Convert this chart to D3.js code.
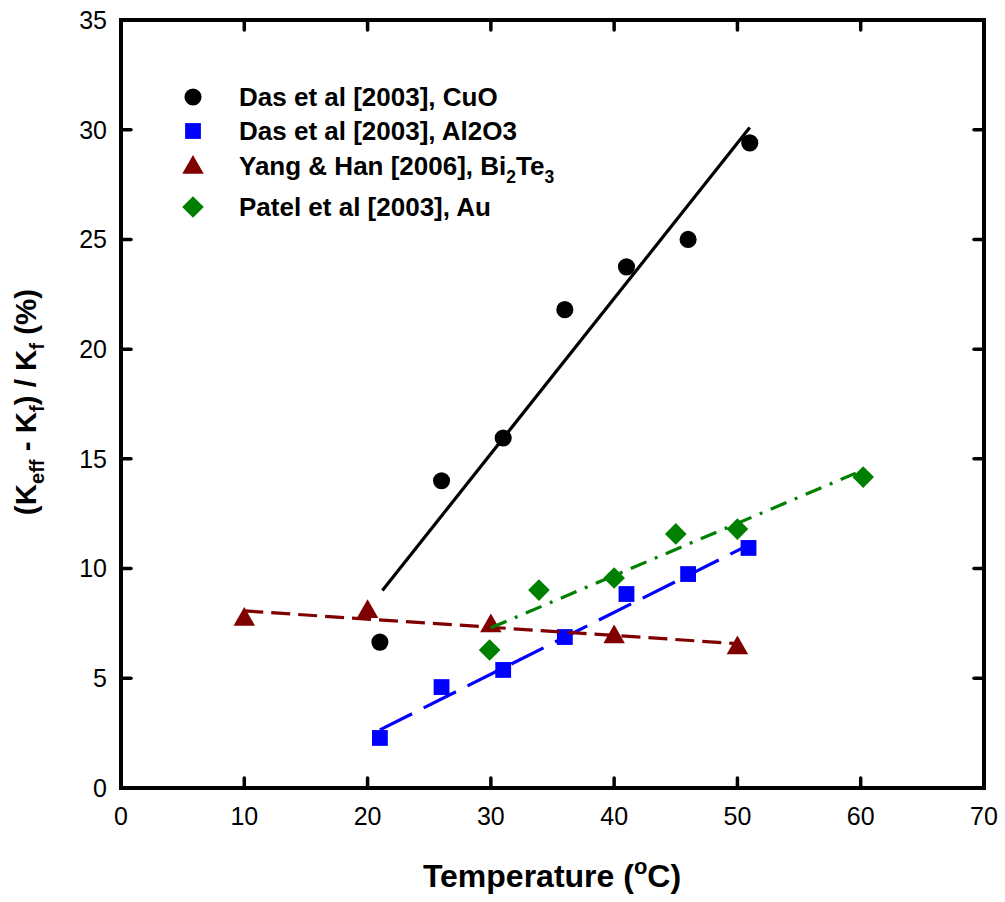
<!DOCTYPE html>
<html><head><meta charset="utf-8">
<script src="https://cdn.jsdelivr.net/npm/d3@7"></script>
<style>body{margin:0;background:#fff}svg{display:block}text{font-family:"Liberation Sans",Arial,sans-serif}</style>
</head><body>
<svg id="c" width="1005" height="902"></svg>
<script>
// ---- data ----
const xTicks = [0,10,20,30,40,50,60,70];
const yTicks = [0,5,10,15,20,25,30,35];

const cuoX = [21,26,31,36,41,46,51];
const cuoY = [6.65,14.0,15.95,21.8,23.75,25.0,29.4];
const cuoFitX = [21.2,51];
const cuoFitY = [9.0,30.1];

const alX = [21,26,31,36,41,46,50.9];
const alY = [2.28,4.6,5.38,6.88,8.84,9.75,10.94];
const alFitX = [21,51];
const alFitY = [2.65,11.1];

const btX = [10,20,30,40,50];
const btY = [7.75,8.1,7.45,6.95,6.45];
const btFitX = [10,50];
const btFitY = [8.07,6.58];

const auX = [29.9,33.9,40,45,50,60.2];
const auY = [6.29,9.02,9.57,11.58,11.8,14.17];
const auFitX = [30,59.6];
const auFitY = [7.3,14.35];

const legendLabels = ["Das et al [2003], CuO","Das et al [2003], Al2O3","Yang & Han [2006], Bi|2|Te|3","Patel et al [2003], Au"];

// ---- chart ----
const svg = d3.select("#c");
const L=121, R=984, T=20, B=788;
const x = d3.scaleLinear().domain([0,70]).range([L,R]);
const y = d3.scaleLinear().domain([0,35]).range([B,T]);

const series = [
  {xs:cuoX, ys:cuoY, fx:cuoFitX, fy:cuoFitY, color:"#000000", dash:null, sym:d3.symbolCircle, size:230, rot:0},
  {xs:alX, ys:alY, fx:alFitX, fy:alFitY, color:"#0000ff", dash:"36,13", sym:d3.symbolSquare, size:250, rot:0},
  {xs:btX, ys:btY, fx:btFitX, fy:btFitY, color:"#800000", dash:"19,8", sym:d3.symbolTriangle, size:200, rot:0},
  {xs:auX, ys:auY, fx:auFitX, fy:auFitY, color:"#008000", dash:"17,9,3,9", sym:d3.symbolSquare, size:235, rot:45}
];

const line = d3.line().x(d=>x(d[0])).y(d=>y(d[1]));
const g = svg.append("g");
function sym(sel, s, cx, cy){
  sel.append("path").attr("d",d3.symbol().type(s.sym).size(s.size)())
    .attr("transform",`translate(${cx},${cy + (s.sym===d3.symbolTriangle?1.5:0)}) rotate(${s.rot})`)
    .attr("fill",s.color);
}
series.forEach(s=>{
  const pts = s.fx.map((v,i)=>[v,s.fy[i]]);
  g.append("path").attr("d",line(pts)).attr("fill","none").attr("stroke",s.color)
    .attr("stroke-width",3.2).attr("stroke-dasharray",s.dash);
  s.xs.forEach((v,i)=> sym(g, s, x(v), y(s.ys[i])));
});

// axes frame
const tl = 10;
const ax = svg.append("g").attr("stroke","#000").attr("stroke-linecap","round");
xTicks.slice(1,-1).forEach(t=>{
  ax.append("line").attr("x1",x(t)).attr("x2",x(t)).attr("y1",B).attr("y2",B-tl).attr("stroke-width",3.5);
  ax.append("line").attr("x1",x(t)).attr("x2",x(t)).attr("y1",T).attr("y2",T+tl).attr("stroke-width",3.5);
});
yTicks.slice(1,-1).forEach(t=>{
  ax.append("line").attr("y1",y(t)).attr("y2",y(t)).attr("x1",L).attr("x2",L+tl).attr("stroke-width",3.5);
  ax.append("line").attr("y1",y(t)).attr("y2",y(t)).attr("x1",R).attr("x2",R-tl).attr("stroke-width",3.5);
});
svg.append("rect").attr("x",L).attr("y",T).attr("width",R-L).attr("height",B-T)
  .attr("fill","none").attr("stroke","#000").attr("stroke-width",4);

// tick labels
svg.selectAll(".xl").data(xTicks).enter().append("text")
  .attr("x",d=>x(d)).attr("y",B+37).attr("text-anchor","middle").attr("font-size",25).text(d=>d);
svg.selectAll(".yl").data(yTicks).enter().append("text")
  .attr("x",L-14).attr("y",d=>y(d)+8.8).attr("text-anchor","end").attr("font-size",25).text(d=>d);

// axis titles
const xt = svg.append("text").attr("x",552).attr("y",887).attr("text-anchor","middle")
  .attr("font-size",32).attr("font-weight","bold");
xt.append("tspan").text("Temperature (");
xt.append("tspan").attr("dy",-13).attr("font-size",22).text("o");
xt.append("tspan").attr("dy",13).text("C)");

const yt = svg.append("text").attr("transform","translate(36,402) rotate(-90)").attr("text-anchor","middle")
  .attr("font-size",29.5).attr("font-weight","bold");
yt.append("tspan").text("(K");
yt.append("tspan").attr("dy",8).attr("font-size",20).text("eff");
yt.append("tspan").attr("dy",-8).text(" - K");
yt.append("tspan").attr("dy",8).attr("font-size",20).text("f");
yt.append("tspan").attr("dy",-8).text(") / K");
yt.append("tspan").attr("dy",8).attr("font-size",20).text("f");
yt.append("tspan").attr("dy",-8).text(" (%)");

// legend
const legY = [97,131,166,207];
series.forEach((s,i)=>{
  sym(svg, s, 193, legY[i]);
  const t = svg.append("text").attr("x",239).attr("y",legY[i]+9).attr("font-size",26).attr("font-weight","bold");
  const parts = legendLabels[i].split("|");
  parts.forEach((p,j)=>{
    const tsp = t.append("tspan").text(p);
    if(j%2===1){ tsp.attr("dy",8).attr("font-size",17.5); }
    else if(j>0){ tsp.attr("dy",-8).attr("font-size",26); }
  });
});
</script>
</body></html>
